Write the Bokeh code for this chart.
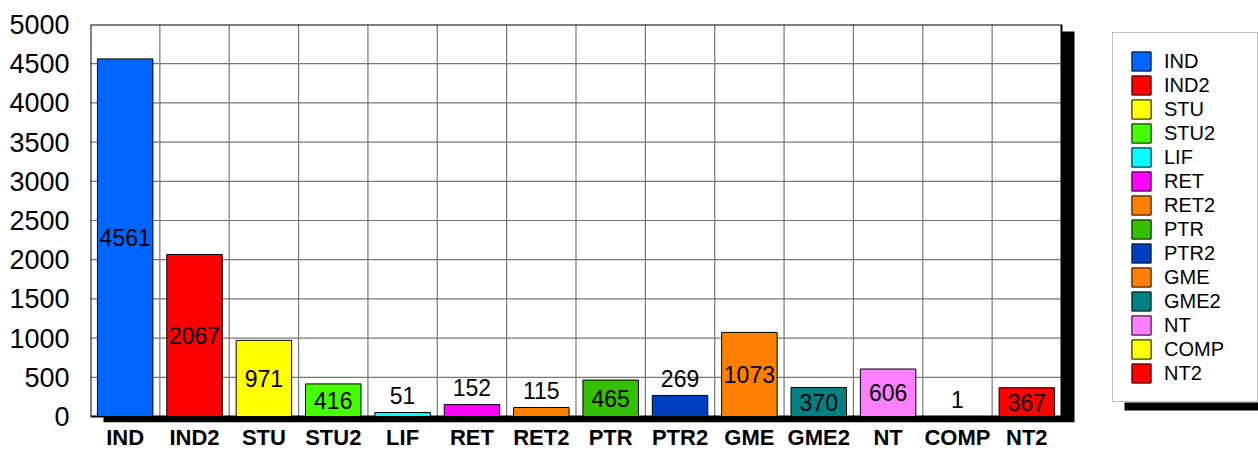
from bokeh.plotting import figure
from bokeh.models import Range1d, FixedTicker, ColumnDataSource, Legend, LegendItem
from bokeh.core.properties import value
from bokeh.embed import file_html
from bokeh.resources import INLINE

categories = ["IND", "IND2", "STU", "STU2", "LIF", "RET", "RET2", "PTR",
              "PTR2", "GME", "GME2", "NT", "COMP", "NT2"]
counts = [4561, 2067, 971, 416, 51, 152, 115, 465, 269, 1073, 370, 606, 1, 367]
colors = ["#0066ff", "#ff0000", "#ffff00", "#44ff00", "#00ffff", "#ff00ff",
          "#ff8000", "#33c000", "#0040c0", "#ff8000", "#008080", "#ff80ff",
          "#ffff00", "#ff0000"]
y_ticks = [0, 500, 1000, 1500, 2000, 2500, 3000, 3500, 4000, 4500, 5000]

FONT = "Liberation Sans"
W, H = 1258, 452
LEFT, TOP, BOTTOM_B = 90, 24, 29
frame_w = W - LEFT
frame_h = H - TOP - BOTTOM_B
cat_px = 971 / len(categories)
SH_X, SH_Y = 13, 6
ymax = y_ticks[-1]
ppy = ymax / (frame_h - SH_Y)
ppx = 1.0 / cat_px
x0 = 0.5
xr = x0 + len(categories)
x_end = x0 + frame_w * ppx
y_start = -SH_Y * ppy
frame_bottom = TOP + frame_h
y0_fig = frame_bottom - SH_Y

p = figure(width=W, height=H, x_range=Range1d(x0, x_end), y_range=Range1d(y_start, ymax),
           output_backend="svg", toolbar_location=None,
           min_border_left=LEFT, min_border_top=TOP, min_border_bottom=BOTTOM_B,
           min_border_right=0)
p.outline_line_color = None
p.grid.visible = False
p.background_fill_color = "white"
p.border_fill_color = "white"

# shadow of the plot area
p.quad(left=x0 + SH_X * ppx, right=xr + SH_X * ppx, bottom=y_start, top=ymax - 7 * ppy,
       fill_color="black", line_color=None)
p.quad(left=x0, right=xr, bottom=0, top=ymax, fill_color="white", line_color=None)

# grid
vx = [x0 + i for i in range(1, len(categories))]
p.segment(x0=vx, x1=vx, y0=[0] * len(vx), y1=[ymax] * len(vx), line_color="#777777", line_width=1.2)
hy = y_ticks[1:-1]
p.segment(x0=[x0] * len(hy), x1=[xr] * len(hy), y0=hy, y1=hy, line_color="#777777", line_width=1.2)

p.quad(left=x0, right=xr, bottom=0, top=ymax, fill_color=None, line_color="black", line_width=2)

xs = list(range(1, len(categories) + 1))
src = ColumnDataSource(dict(x=xs, top=counts, color=colors, name=categories))
bars = p.vbar(x="x", top="top", width=0.8, source=src, fill_color="color",
              line_color="black", line_width=1)

label_y = [c / 2 if c >= 300 else c + 17 * ppy for c in counts]
p.text(x=xs, y=label_y, text=[str(c) for c in counts], text_align="center",
       text_baseline="middle", text_font=value(FONT), text_font_size="23px", text_color="black")

# legend shadow
L_left, L_bottom, L_w = 1112, 403, 144
p.quad(left=x0 + (L_left + 12 - LEFT) * ppx, right=x_end + 1,
       bottom=(y0_fig - (L_bottom + 8)) * ppy, top=(y0_fig - L_bottom) * ppy,
       fill_color="black", line_color=None)

PAD = 16
GLY = 24
legend = Legend(items=[LegendItem(label=c, renderers=[bars], index=i) for i, c in enumerate(categories)],
                location=(L_left - LEFT, frame_bottom - L_bottom))
legend.border_line_color = "#808080"
legend.border_line_width = 1
legend.background_fill_color = "white"
legend.background_fill_alpha = 1
legend.padding = PAD
legend.margin = 0
legend.spacing = 0
legend.glyph_width = GLY
legend.glyph_height = GLY
legend.label_height = GLY
legend.label_standoff = 11
legend.label_width = L_w - 2 * PAD - GLY - 11
legend.label_text_font = FONT
legend.label_text_font_size = "20px"
legend.label_text_color = "black"
p.add_layout(legend)

ya = p.yaxis[0]
ya.ticker = FixedTicker(ticks=y_ticks)
ya.major_label_text_font = FONT
ya.major_label_text_font_size = "27px"
ya.major_label_text_color = "black"
ya.major_label_standoff = 15
ya.major_tick_line_color = None
ya.minor_tick_line_color = None
ya.axis_line_color = None

xa = p.xaxis[0]
xa.ticker = FixedTicker(ticks=xs)
xa.major_label_overrides = {x: c for x, c in zip(xs, categories)}
xa.major_label_text_font = FONT
xa.major_label_text_font_size = "22px"
xa.major_label_text_font_style = "bold"
xa.major_label_text_color = "black"
xa.major_label_standoff = -4
xa.major_tick_line_color = None
xa.minor_tick_line_color = None
xa.axis_line_color = None

open("out.html", "w").write(file_html(p, INLINE))
